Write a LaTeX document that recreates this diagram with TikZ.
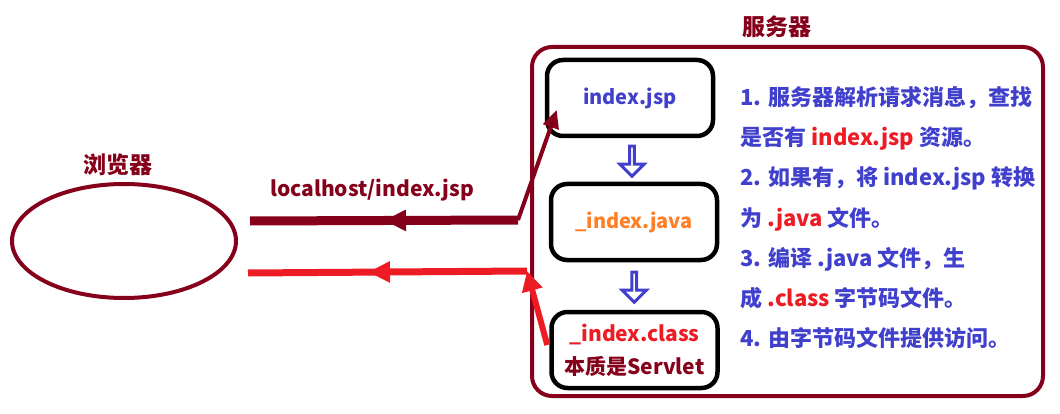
\documentclass[tikz,border=0pt]{standalone}
\usepackage{fontspec}
\setmainfont{Noto Sans CJK SC}
\usetikzlibrary{arrows.meta,shapes.arrows,shapes.geometric,decorations.markings,calc}
\definecolor{darkred}{RGB}{133,0,26}
\definecolor{stepblue}{RGB}{64,64,204}
\definecolor{jspred}{RGB}{237,28,36}
\definecolor{javaorange}{RGB}{255,127,39}
\newcommand\hl[1]{\textcolor{jspred}{#1}}

\begin{document}
\begin{tikzpicture}[x=1pt,y=-1pt,
	every node/.style={font=\bfseries\fontsize{20}{24}\selectfont},
	bigtitle/.style={text=darkred, font=\bfseries\fontsize{23}{27}\selectfont},
	filebox/.style={draw=black, line width=4.5pt, rounded corners=16pt, minimum width=166pt, minimum height=76pt, inner sep=0pt, align=center},
	downarrow/.style={single arrow, draw=stepblue, line width=3pt, shape border rotate=270, minimum height=30pt, minimum width=24pt, single arrow head extend=6pt, inner sep=0pt},
	midtip/.style={postaction={decorate}, decoration={markings, mark=at position #1 with {\arrow{Triangle[length=22pt,width=20pt]}}}}]
	\useasboundingbox (0,0) rectangle (1060,414);
	
	% server side
	\node[draw=darkred, line width=4pt, rounded corners=20pt, minimum width=511pt, minimum height=349pt] (server) at (787.5,221.5) {};
	\node[bigtitle] (serverlabel) at (777,27) {服务器};
	\node[filebox, text=stepblue] (jsp) at (630,98) {index.jsp};
	\node[filebox, text=javaorange] (java) at (634,222) {\_index.java};
	\node[filebox, font=\bfseries\fontsize{21}{33}\selectfont] (class) at (634.5,350) {\textcolor{jspred}{\_index.class}\\\textcolor{darkred}{本质是Servlet}};
	\node[downarrow] (down1) at ($(jsp.south)!0.5!(java.north)$) {};
	\node[downarrow] (down2) at ($(java.south)!0.5!(class.north)$) {};
	
	\foreach \steptext [count=\i] in {
		{1. 服务器解析请求消息，查找},
		{是否有 \hl{index.jsp} 资源。},
		{2. 如果有，将 index.jsp 转换},
		{为 \hl{.java} 文件。},
		{3. 编译 .java 文件，生},
		{成 \hl{.class} 字节码文件。},
		{4. 由字节码文件提供访问。}}
		\node[anchor=base west, text=stepblue, font=\bfseries\fontsize{22}{26}\selectfont] (step\i) at (737,66+40*\i) {\steptext};
	
	% browser side
	\node[ellipse, draw=darkred, line width=4pt, minimum width=224pt, minimum height=114pt] (browser) at (124,241) {};
	\node[bigtitle] (browserlabel) at (118,165) {浏览器};
	\node[text=darkred, font=\bfseries\fontsize{21}{25}\selectfont] (url) at (372,190) {localhost/index.jsp};
	
	% request and response
	\coordinate (reqBend) at (518,220);
	\coordinate (reqEnd) at ([xshift=12pt,yshift=20pt]browser.east);
	\coordinate (reqTip) at ([xshift=12pt,yshift=-12pt]jsp.west);
	\draw[darkred, line width=4pt, -{Triangle[length=18pt,width=16pt]}] (reqBend) -- (reqTip);
	\draw[darkred, line width=9pt, midtip=0.5] (reqBend) -- (reqEnd);
	
	\coordinate (resBend) at (527,271);
	\coordinate (resStart) at ([xshift=-2pt,yshift=5pt]class.west);
	\coordinate (resEnd) at ([xshift=10pt,yshift=-32pt]browser.east);
	\draw[jspred, line width=6pt, -{Triangle[length=20pt,width=20pt]}] (resStart) -- (resBend);
	\draw[jspred, line width=7pt, midtip=0.57] (resBend) -- (resEnd);
\end{tikzpicture}
\end{document}
